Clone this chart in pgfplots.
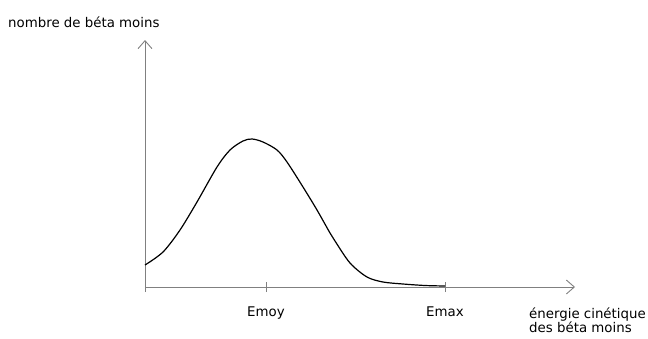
\documentclass[border=0pt]{standalone}
\usepackage{fontspec}
\setmainfont{DejaVu Sans}
\usepackage{pgfplots}
\pgfplotsset{compat=1.18}
\usetikzlibrary{arrows.meta}
\begin{document}
\begin{tikzpicture}[x=1bp,y=1bp,font=\fontsize{13.4}{15}\selectfont]
\path[use as bounding box] (-145,-51) rectangle (503,287);
\begin{axis}[
  anchor=origin, at={(0,0)},
  x=1bp, y=1bp,
  xmin=0, xmax=430, ymin=0, ymax=247,
  axis x line=bottom, axis y line=left,
  axis line style={draw=gray, line width=0.9bp, -{Straight Barb[length=8bp,width=14bp]}},
  xtick={0,121,300}, xticklabels={,Emoy,Emax},
  ytick=\empty,
  tick align=center, major tick length=10bp,
  tick style={draw=gray, line width=0.9bp},
  xticklabel style={font=\fontsize{13.4}{15}\selectfont, anchor=base, yshift=-24bp},
  clip=false,
]
\addplot[black, line width=1.2bp, smooth, tension=0.5] coordinates {
(0,22) (18,35) (35,57) (52,85) (72,120) (85,137) (98,146) (107,148) (118,145)
(132,137) (142,125) (158,100) (172,77) (185,54) (190,46) (205,24) (222,10)
(238,5) (258,3) (280,1.5) (300,1)};
\end{axis}
\node[anchor=base west, inner sep=0] at (-137,260) {nombre de béta moins};
\node[anchor=base west, inner sep=0] at (384,-31) {énergie cinétique};
\node[anchor=base west, inner sep=0] at (384,-45) {des béta moins};
\end{tikzpicture}
\end{document}
